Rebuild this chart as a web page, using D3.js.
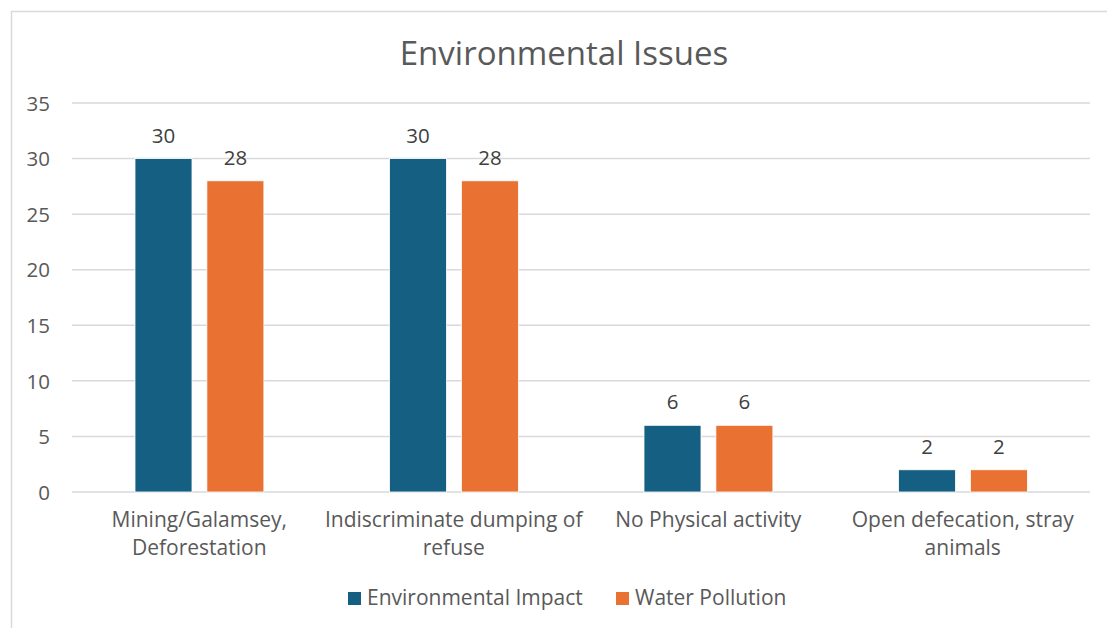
<!DOCTYPE html>
<html>
<head>
<meta charset="utf-8">
<script src="https://cdn.jsdelivr.net/npm/d3@7"></script>
<style>
  html, body { margin: 0; padding: 0; background: #fff; }
  svg { display: block; }
  text { font-family: "Open Sans", "Noto Sans", sans-serif; }
</style>
</head>
<body>
<svg id="chart" width="1107" height="628"></svg>
<script>
// Survey counts per environmental issue
const categories = [
  ["Mining/Galamsey,", "Deforestation"],
  ["Indiscriminate dumping of", "refuse"],
  ["No Physical activity"],
  ["Open defecation, stray", "animals"]
];
const seriesNames = ["Environmental Impact", "Water Pollution"];
const environmentalImpact = [30, 30, 6, 2];
const waterPollution = [28, 28, 6, 2];
const yTicks = [0, 5, 10, 15, 20, 25, 30, 35];
const colors = ["#156082", "#E97132"];

const svg = d3.select("#chart");
const W = 1107, H = 628;
const plot = { left: 72, right: 1090, top: 103, bottom: 492 };

// outer frame of the chart area
svg.append("rect")
  .attr("x", 11.5).attr("y", 11.5)
  .attr("width", W + 10).attr("height", H + 10)
  .attr("fill", "#fff").attr("stroke", "#d9d9d9").attr("stroke-width", 1.5);

const x = d3.scaleBand()
  .domain(d3.range(categories.length))
  .range([plot.left, plot.right])
  .paddingInner(0).paddingOuter(0);

const y = d3.scaleLinear().domain([0, 35]).range([plot.bottom, plot.top]);

// gridlines
svg.append("g")
  .selectAll("line")
  .data(yTicks)
  .join("line")
  .attr("x1", plot.left).attr("x2", plot.right)
  .attr("y1", d => y(d)).attr("y2", d => y(d))
  .attr("stroke", "#d9d9d9").attr("stroke-width", 1.5);

// y axis labels
const yAxis = d3.axisLeft(y).tickValues(yTicks).tickSize(0).tickPadding(0);
const yg = svg.append("g").attr("transform", `translate(50,0)`).call(yAxis);
yg.select(".domain").remove();
yg.selectAll("text")
  .attr("fill", "#595959")
  .style("font-size", "20.5px")
  .attr("dy", "0.35em");

// bars
const series = [environmentalImpact, waterPollution];
const barOffset = [0.2475, 0.530];
const barWidthFrac = 0.224;

series.forEach((vals, si) => {
  const g = svg.append("g");
  g.selectAll("rect")
    .data(vals)
    .join("rect")
    .attr("x", (d, i) => x(i) + x.bandwidth() * barOffset[si])
    .attr("width", x.bandwidth() * barWidthFrac)
    .attr("y", d => y(d))
    .attr("height", d => y(0) - y(d))
    .attr("fill", colors[si])
    .attr("stroke", "#fff").attr("stroke-width", 0.8);

  g.selectAll("text")
    .data(vals)
    .join("text")
    .attr("x", (d, i) => x(i) + x.bandwidth() * (barOffset[si] + barWidthFrac / 2))
    .attr("y", d => y(d) - 16)
    .attr("text-anchor", "middle")
    .attr("fill", "#404040")
    .style("font-size", "20.5px")
    .text(d => d);
});

// category labels
const cat = svg.append("g");
categories.forEach((lines, i) => {
  const t = cat.append("text")
    .attr("x", x(i) + x.bandwidth() / 2)
    .attr("y", 527)
    .attr("text-anchor", "middle")
    .attr("fill", "#595959")
    .style("font-size", "21px");
  lines.forEach((ln, j) => {
    t.append("tspan")
      .attr("x", x(i) + x.bandwidth() / 2)
      .attr("dy", j === 0 ? 0 : 28)
      .text(ln);
  });
});

// title
svg.append("text")
  .attr("x", 564).attr("y", 65)
  .attr("text-anchor", "middle")
  .attr("fill", "#595959")
  .style("font-size", "33px")
  .text("Environmental Issues");

// legend
const legendItems = [
  { name: seriesNames[0], color: colors[0], x: 348 },
  { name: seriesNames[1], color: colors[1], x: 616 }
];
const lg = svg.append("g");
legendItems.forEach(it => {
  lg.append("rect")
    .attr("x", it.x).attr("y", 592)
    .attr("width", 13).attr("height", 13)
    .attr("fill", it.color);
  lg.append("text")
    .attr("x", it.x + 19).attr("y", 605)
    .attr("fill", "#595959")
    .style("font-size", "21px")
    .text(it.name);
});
</script>
</body>
</html>
